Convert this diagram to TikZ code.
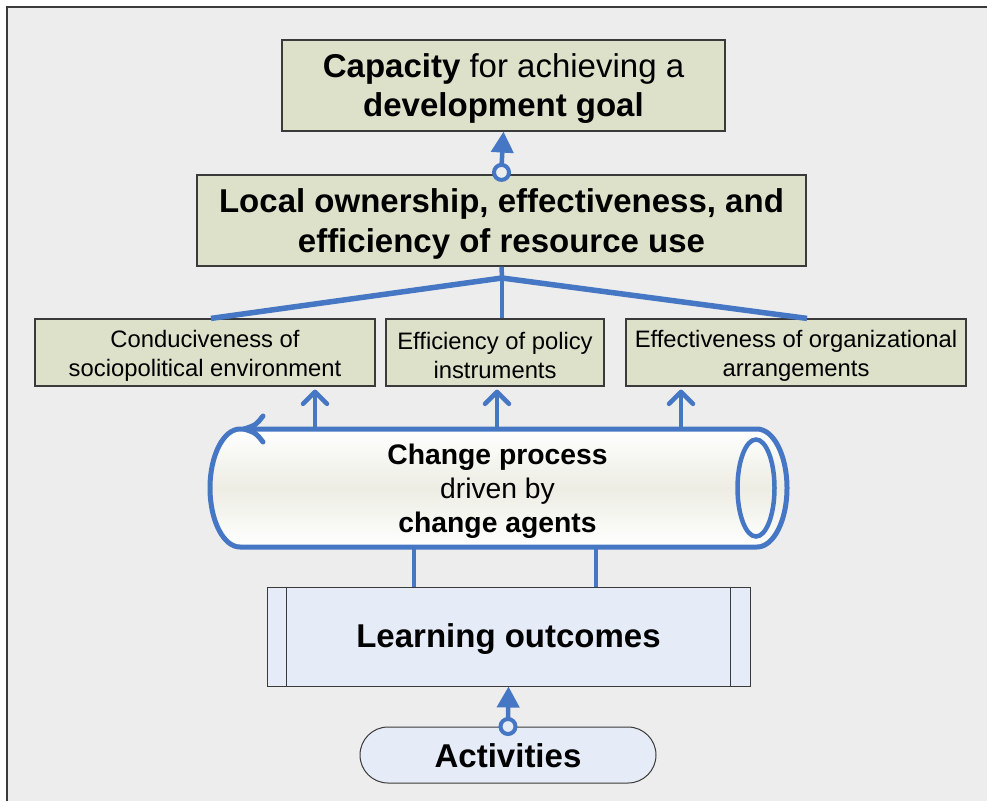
\documentclass[tikz,border=0pt]{standalone}
\usepackage{fontspec}
\setmainfont{Liberation Sans}
\usetikzlibrary{arrows.meta}
\definecolor{bg}{HTML}{EDEDED}
\definecolor{boxfill}{HTML}{DDE1CA}
\definecolor{lofill}{HTML}{E5ECF7}
\definecolor{lnblue}{HTML}{4677C4}
\definecolor{bord}{HTML}{3A3A3A}
\definecolor{cylmid}{HTML}{EDEDE4}
\begin{document}
\begin{tikzpicture}[x=1pt,y=-1pt,
  gbox/.style={draw=bord, line width=1.2pt, fill=boxfill, inner sep=0pt},
  lbox/.style={draw=bord, line width=1pt, fill=lofill, inner sep=0pt},
  txt/.style={align=center, inner sep=0pt},
  conn/.style={draw=lnblue, line width=4.5pt},
  uparrow/.style={draw=lnblue, line width=4.5pt, -{Straight Barb[length=12pt,width=24pt,line cap=round,line join=round]}},
  circarrow/.style={draw=lnblue, line width=4.5pt, -{Triangle[length=21pt,width=22pt]}},
  ring/.style={draw=lnblue, line width=4pt}]
\useasboundingbox (0,0) rectangle (987,801);
\fill[white] (0,0) rectangle (987,801);
\fill[bg] (7,7) rectangle (987,801);
\draw[bord, line width=1.5pt] (7,801) -- (7,7) -- (987,7);

% top boxes
\node[gbox, minimum width=443pt, minimum height=91pt] (cap) at (503.5,85.5) {};
\node[txt, font=\fontsize{33}{39}\selectfont] (captext) at ([yshift=-3pt]cap.center) {\textbf{Capacity} for achieving a\\ \textbf{development goal}};
\node[gbox, minimum width=609pt, minimum height=91pt] (loc) at (501.5,220.5) {};
\node[txt, font=\bfseries\fontsize{33}{40}\selectfont] (loctext) at ([yshift=-3pt]loc.center) {Local ownership, effectiveness, and\\ efficiency of resource use};

% three boxes
\node[gbox, minimum width=340pt, minimum height=67pt] (b1) at (205,352.5) {};
\node[gbox, minimum width=218pt, minimum height=67pt] (b2) at (495,352.5) {};
\node[gbox, minimum width=340pt, minimum height=67pt] (b3) at (796,352.5) {};
\node[txt, font=\fontsize{23.8}{29}\selectfont] (b1text) at ([yshift=-3pt]b1.center) {Conduciveness of\\ sociopolitical environment};
\node[txt, font=\fontsize{23.8}{29}\selectfont] (b2text) at ([yshift=-3pt]b2.center) {Efficiency of policy\\ instruments};
\node[txt, font=\fontsize{23.8}{29}\selectfont] (b3text) at ([yshift=-3pt]b3.center) {Effectiveness of organizational\\ arrangements};

% arrow loc -> cap
\draw[circarrow] ([yshift=8pt]loc.north) -- (cap.south);
\draw[ring, fill=bg] ([yshift=2pt]loc.north) circle [radius=7.5pt];

% tree connectors
\coordinate (j) at (502,278);
\draw[conn] (loc.south) -- (j);
\draw[conn, line width=5.5pt] (j) -- ([xshift=6pt]b1.north);
\draw[conn, line width=5.5pt] (j) -- ([xshift=11pt]b3.north);
\draw[conn] (j) -- (j |- b2.north);

% cylinder
\path[top color=white, bottom color=white, middle color=cylmid]
  (240,429) -- (757,429) arc[start angle=-90, end angle=90, x radius=30, y radius=59]
  -- (240,547) arc[start angle=90, end angle=270, x radius=30, y radius=59] -- cycle;
\draw[lnblue, line width=5pt, line join=round]
  (240,429) -- (757,429) arc[start angle=-90, end angle=90, x radius=30, y radius=59]
  -- (240,547) arc[start angle=90, end angle=270, x radius=30, y radius=59] -- cycle;
\draw[lnblue, line width=4.5pt] (756,488) ellipse [x radius=18.5, y radius=48.5];
\draw[lnblue, line width=5pt, line cap=round, line join=round]
  (263,416) .. controls (256,425) .. (244,429) .. controls (256,433) .. (263,442);
\node[txt, font=\fontsize{28.3}{34}\selectfont] (cyl) at (497.5,491) {\textbf{Change process}\\ driven by\\ \textbf{change agents}};

% arrows cylinder -> boxes
\coordinate (u1) at (315,429);
\coordinate (u2) at (497,429);
\coordinate (u3) at (681,429);
\draw[uparrow] (u1) -- ([yshift=-3pt]u1 |- b1.south);
\draw[uparrow] (u2) -- ([yshift=-3pt]u2 |- b2.south);
\draw[uparrow] (u3) -- ([yshift=-3pt]u3 |- b3.south);

% learning outcomes
\node[lbox, minimum width=483pt, minimum height=99pt] (lo) at (508.5,636.5) {};
\node[txt, font=\bfseries\fontsize{33}{38}\selectfont] (lotext) at ([yshift=-3pt]lo.center) {Learning outcomes};
\draw[bord, line width=1pt] ([xshift=20pt]lo.north west) -- ([xshift=20pt]lo.south west);
\draw[bord, line width=1pt] ([xshift=-20pt]lo.north east) -- ([xshift=-20pt]lo.south east);
\coordinate (d1) at (414,547);
\coordinate (d2) at (596,547);
\draw[conn] (d1) -- (d1 |- lo.north);
\draw[conn] (d2) -- (d2 |- lo.north);

% activities
\node[lbox, rounded corners=28pt, minimum width=296pt, minimum height=56pt] (act) at (508,755) {};
\node[txt, font=\bfseries\fontsize{33}{38}\selectfont] (acttext) at ([yshift=-1pt]act.center) {Activities};
\draw[circarrow] ([yshift=8pt]act.north) -- (lo.south);
\draw[ring, fill=lofill] (act.north) circle [radius=7.5pt];
\end{tikzpicture}
\end{document}
